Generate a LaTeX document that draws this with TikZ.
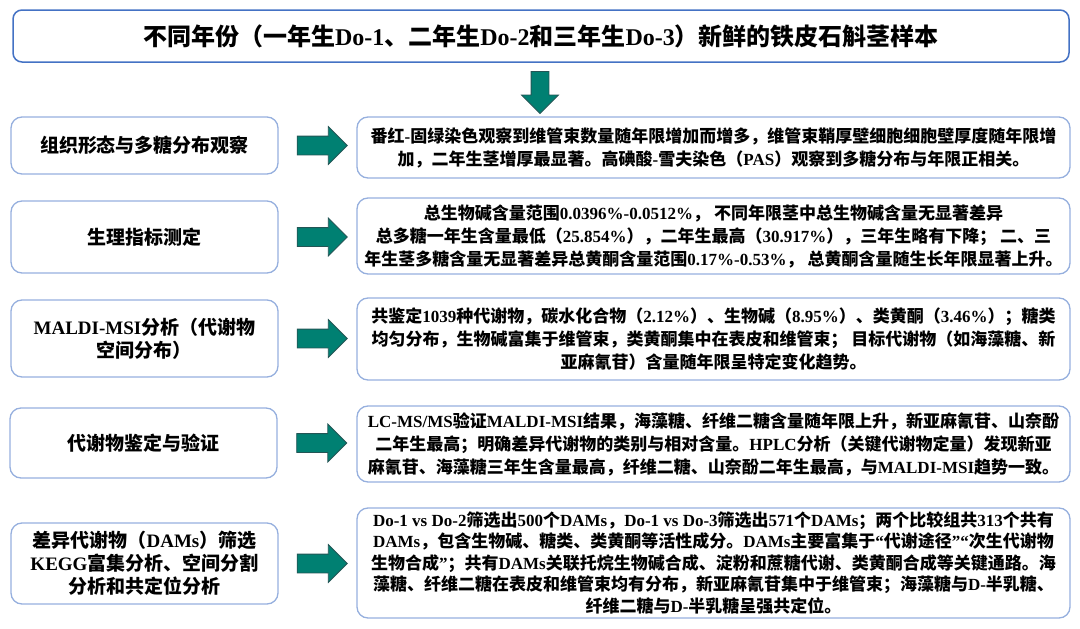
\documentclass[tikz,border=0pt]{standalone}
\usepackage{fontspec}
\setmainfont{Liberation Serif}
\newfontfamily\cjkfont{Noto Sans CJK SC}
\usetikzlibrary{shapes.arrows, calc}
\usepackage{xcolor}
\definecolor{topblue}{RGB}{68,114,196}
\definecolor{boxblue}{RGB}{150,175,222}
\definecolor{arrowteal}{RGB}{0,128,114}
\definecolor{arrowedge}{RGB}{35,85,85}

% Chinese characters in the CJK font, Latin and digits in Liberation Serif
\newcount\cjkcode
\newXeTeXintercharclass\cjkclass
\cjkcode="3000
\loop
  \XeTeXcharclass\cjkcode=\cjkclass
  \advance\cjkcode by 1
\ifnum\cjkcode<"A000 \repeat
\cjkcode="FF00
\loop
  \XeTeXcharclass\cjkcode=\cjkclass
  \advance\cjkcode by 1
\ifnum\cjkcode<"FFF0 \repeat
\XeTeXinterchartoks 0 \cjkclass = {\cjkfont}
\XeTeXinterchartoks 4095 \cjkclass = {\cjkfont}
\XeTeXinterchartoks \cjkclass 0 = {\rmfamily}
\XeTeXinterchartokenstate=1

\tikzset{
    topbox/.style={draw=topblue, line width=1.5pt, rounded corners=9pt, minimum width=1056pt, minimum height=52pt, font={\fontsize{24}{28}\selectfont\bfseries}},
    stagebox/.style={draw=boxblue, line width=1.3pt, rounded corners=11pt, minimum width=267pt, align=center, font={\fontsize{19}{23}\selectfont\bfseries}},
    resultbox/.style={draw=boxblue, line width=1.3pt, rounded corners=11pt, minimum width=713pt, align=center, font={\fontsize{17}{23}\selectfont\bfseries}},
    flowarrow/.style={single arrow, draw=arrowedge, fill=arrowteal, line width=0.8pt, inner xsep=0pt, inner ysep=9pt, single arrow head extend=9.5pt, minimum height=50pt}
}

\begin{document}
\begin{tikzpicture}[x=1pt, y=-1pt]
    \useasboundingbox (0,0) rectangle (1080,629);
    \node[topbox] (sample) at (541,36) {不同年份（一年生Do-1、二年生Do-2和三年生Do-3）新鲜的铁皮石斛茎样本};
    \node[flowarrow, shape border rotate=270, minimum height=42pt, inner xsep=8.5pt, inner ysep=0pt] (down) at (540,88) {};

    % stages
    \node[stagebox, minimum height=57pt] (s1) at (144.5,145.5) {组织形态与多糖分布观察};
    \node[stagebox, minimum height=72pt] (s2) at (144.5,237) {生理指标测定};
    \node[stagebox, minimum height=77pt] (s3) at (144.5,338.5) {MALDI-MSI分析（代谢物\\空间分布）};
    \node[stagebox, minimum height=70pt] (s4) at (143.5,443) {代谢物鉴定与验证};
    \node[stagebox, minimum height=81pt] (s5) at (144.5,563.5) {差异代谢物（DAMs）筛选\\KEGG富集分析、空间分割\\分析和共定位分析};

    % results
    \node[resultbox, minimum height=61pt] (r1) at (713.5,147.5) {番红-固绿染色观察到维管束数量随年限增加而增多，维管束鞘厚壁细胞细胞壁厚度随年限增\\加，二年生茎增厚最显著。高碘酸-雪夫染色（PAS）观察到多糖分布与年限正相关。};
    \node[resultbox, minimum height=76pt] (r2) at (713.5,236) {总生物碱含量范围0.0396\%-0.0512\%， 不同年限茎中总生物碱含量无显著差异\\总多糖一年生含量最低（25.854\%），二年生最高（30.917\%），三年生略有下降； 二、三\\年生茎多糖含量无显著差异总黄酮含量范围0.17\%-0.53\%， 总黄酮含量随生长年限显著上升。};
    \node[resultbox, minimum height=82pt] (r3) at (713.5,339) {共鉴定1039种代谢物，碳水化合物（2.12\%）、生物碱（8.95\%）、类黄酮（3.46\%）；糖类\\均匀分布，生物碱富集于维管束，类黄酮集中在表皮和维管束； 目标代谢物（如海藻糖、新\\亚麻氰苷）含量随年限呈特定变化趋势。};
    \node[resultbox, minimum height=76pt] (r4) at (713.5,444) {LC-MS/MS验证MALDI-MSI结果，海藻糖、纤维二糖含量随年限上升，新亚麻氰苷、山奈酚\\二年生最高；明确差异代谢物的类别与相对含量。HPLC分析（关键代谢物定量）发现新亚\\麻氰苷、海藻糖三年生含量最高，纤维二糖、山奈酚二年生最高，与MALDI-MSI趋势一致。};
    \node[resultbox, minimum height=110pt, font={\fontsize{17}{21.5}\selectfont\bfseries}] (r5) at (713.5,563) {Do-1 vs Do-2筛选出500个DAMs，Do-1 vs Do-3筛选出571个DAMs；两个比较组共313个共有\\DAMs，包含生物碱、糖类、类黄酮等活性成分。DAMs主要富集于“代谢途径”“次生代谢物\\生物合成”；共有DAMs关联托烷生物碱合成、淀粉和蔗糖代谢、类黄酮合成等关键通路。海\\藻糖、纤维二糖在表皮和维管束均有分布，新亚麻氰苷集中于维管束；海藻糖与D-半乳糖、\\纤维二糖与D-半乳糖呈强共定位。};

    % arrows from each stage to its result
    \foreach \i in {1,...,5}
        \node[flowarrow] (a\i) at ($(s\i.east)!.5!(s\i.east -| r\i.west)$) {};
\end{tikzpicture}
\end{document}
